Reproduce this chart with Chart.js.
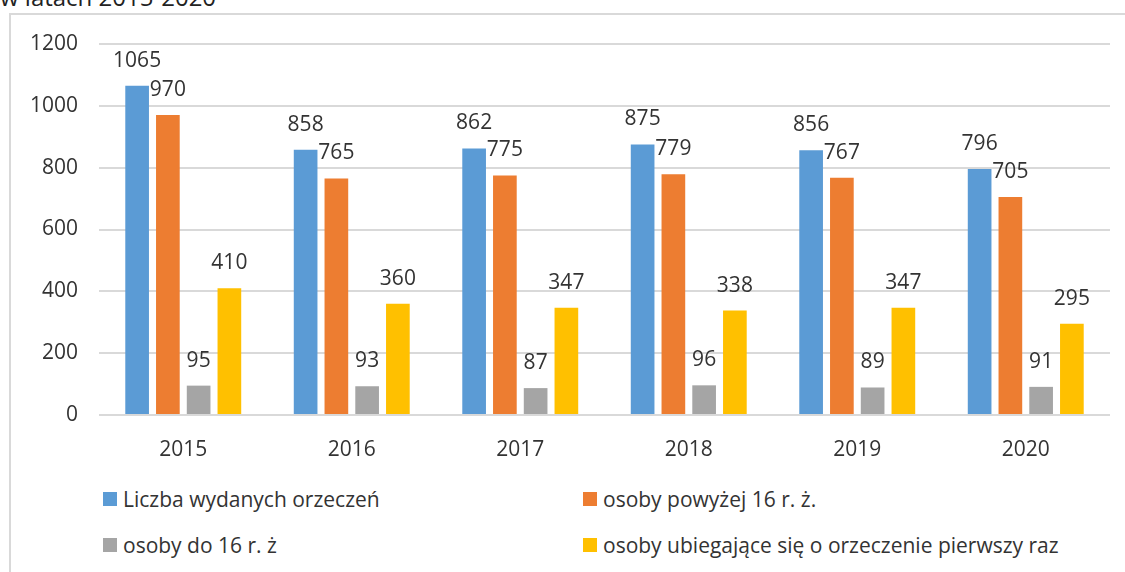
<!DOCTYPE html>
<html>
<head>
<meta charset="utf-8">
<script src="https://cdn.jsdelivr.net/npm/chart.js@4.4.0/dist/chart.umd.min.js"></script>
<style>
  body { margin: 0; background: #fff; font-family: 'Open Sans', sans-serif; color: #333; }
  #wrap { position: relative; width: 1125px; height: 572px; overflow: hidden; }
  #title { position: absolute; left: 0; top: -15px; font-size: 24px; line-height: 24px; color: #222; white-space: nowrap; }
  #boxTop { position: absolute; left: 10px; top: 13px; width: 1115px; height: 2px; background: #d9d9d9; }
  #boxLeft { position: absolute; left: 9px; top: 13px; width: 2px; height: 559px; background: #d9d9d9; }
  #chart { position: absolute; left: 0; top: 0; }
  #legend { position: absolute; left: 103px; top: 487px; display: grid; grid-template-columns: 480px auto; row-gap: 22px; font-size: 21px; color: #333; }
  .item { display: flex; align-items: center; height: 24px; white-space: nowrap; }
  .item span.sw { width: 14px; height: 14px; margin-right: 6px; display: inline-block; }
</style>
</head>
<body>
<div id="wrap">
  <div id="title">w latach 2015-2020</div>
  <div id="boxTop"></div>
  <div id="boxLeft"></div>
  <canvas id="chart" width="1125" height="460"></canvas>
  <div id="legend"></div>
</div>
<script>
const years = ['2015', '2016', '2017', '2018', '2019', '2020'];
const seriesNames = ['Liczba wydanych orzeczeń', 'osoby powyżej 16 r. ż.', 'osoby do 16 r. ż', 'osoby ubiegające się o orzeczenie pierwszy raz'];
const wydane = [1065, 858, 862, 875, 856, 796];
const powyzej16 = [970, 765, 775, 779, 767, 705];
const do16 = [95, 93, 87, 96, 89, 91];
const pierwszyRaz = [410, 360, 347, 338, 347, 295];
const colors = ['#5B9BD5', '#ED7D31', '#A5A5A5', '#FFC000'];

const allData = [wydane, powyzej16, do16, pierwszyRaz];

// etykiety wartości nad słupkami
const valueLabels = {
    id: 'valueLabels',
    afterDatasetsDraw(chart) {
        const ctx = chart.ctx;
        ctx.save();
        ctx.font = '21px "Open Sans"';
        ctx.fillStyle = '#333';
        ctx.textAlign = 'center';
        ctx.textBaseline = 'alphabetic';
        chart.data.datasets.forEach((ds, i) => {
            chart.getDatasetMeta(i).data.forEach((bar, j) => {
                ctx.fillText(ds.data[j], bar.x, bar.y - 19);
            });
        });
        ctx.restore();
    }
};

const ctx = document.getElementById('chart').getContext('2d');
const myChart = new Chart(ctx, {
    type: 'bar',
    data: {
        labels: years,
        datasets: seriesNames.map((name, i) => ({
            label: name,
            data: allData[i],
            backgroundColor: colors[i],
            categoryPercentage: 0.73,
            barPercentage: 0.77
        }))
    },
    options: {
        responsive: false,
        animation: false,
        layout: { padding: { top: 44, right: 15, left: 0, bottom: 0 } },
        plugins: {
            legend: { display: false },
            tooltip: { enabled: false }
        },
        scales: {
            x: {
                grid: { display: false },
                border: { display: false },
                ticks: { color: '#333', font: { family: 'Open Sans', size: 21 }, padding: 14 },
                afterFit: s => { s.height = 45; }
            },
            y: {
                min: 0,
                max: 1200,
                grid: { color: '#d9d9d9', lineWidth: 2, drawTicks: false },
                border: { display: false },
                ticks: {
                    stepSize: 200,
                    color: '#333',
                    font: { family: 'Open Sans', size: 21 },
                    padding: 21,
                    callback: v => String(v)
                },
                afterFit: s => { s.width = 99; }
            }
        }
    },
    plugins: [valueLabels]
});

// legenda w dwóch kolumnach
const legend = document.getElementById('legend');
seriesNames.forEach((name, i) => {
    const item = document.createElement('div');
    item.className = 'item';
    item.innerHTML = '<span class="sw" style="background:' + colors[i] + '"></span>' + name;
    legend.appendChild(item);
});
</script>
</body>
</html>
